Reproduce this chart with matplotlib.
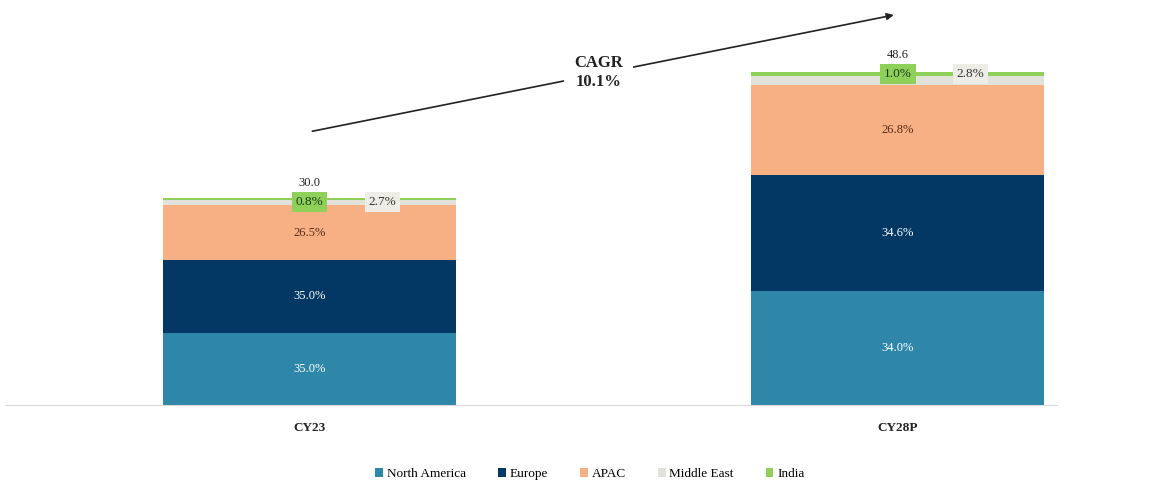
import matplotlib.pyplot as plt
from matplotlib.patches import Patch

plt.rcParams['font.family'] = ['Liberation Serif', 'DejaVu Serif']

# data
years = ['CY23', 'CY28P']
totals = [30.0, 48.6]
regions = ['North America', 'Europe', 'APAC', 'Middle East', 'India']
shares = {
    'North America': [35.0, 34.0],
    'Europe': [35.0, 34.6],
    'APAC': [26.5, 26.8],
    'Middle East': [2.7, 2.8],
    'India': [0.8, 1.0],
}
colors = {
    'North America': '#2E86A8',
    'Europe': '#033764',
    'APAC': '#F6B084',
    'Middle East': '#E2E2DA',
    'India': '#8FD05A',
}
text_colors = {
    'North America': 'white',
    'Europe': 'white',
    'APAC': '#5a2a1a',
}
cagr = '10.1%'

fig = plt.figure(figsize=(11.5, 4.82), dpi=100)
ax = fig.add_axes([5 / 1150, 77 / 482, 1052 / 1150, 405 / 482])

x = list(range(len(years)))
bw = 0.498
bottoms = [0.0] * len(years)
for r in regions:
    vals = [totals[i] * shares[r][i] / 100 for i in x]
    ax.bar(x, vals, bw, bottom=bottoms, color=colors[r], linewidth=0)
    for i in x:
        if r in text_colors:
            ax.text(i, bottoms[i] + vals[i] / 2, f'{shares[r][i]:.1f}%',
                    ha='center', va='center', fontsize=9,
                    color=text_colors[r])
    bottoms = [bottoms[i] + vals[i] for i in x]

# small segments: labels in boxes
for i in x:
    ax.text(i, totals[i] - 0.6, f"{shares['India'][i]:.1f}%", ha='center',
            va='center', fontsize=9.5, color='#1a3a10',
            bbox=dict(boxstyle='square,pad=0.3', fc='#8FD05A', ec='none'))
    ax.text(i + 0.124, totals[i] - 0.6, f"{shares['Middle East'][i]:.1f}%",
            ha='center', va='center', fontsize=9.5, color='#333333',
            bbox=dict(boxstyle='square,pad=0.3', fc='#EDEDE6', ec='none'))
    ax.text(i, totals[i] + 1.3, f'{totals[i]:.1f}', ha='center',
            va='bottom', fontsize=9, color='#222222')

# CAGR arrow
ax.annotate('', xy=(0.998, 56.6), xytext=(0.0, 39.6),
            arrowprops=dict(arrowstyle='-|>', color='#222222', lw=1.2,
                            mutation_scale=10))
ax.text(0.491, 48.2, f'CAGR\n{cagr}', ha='center', va='center',
        fontsize=12, fontweight='bold', color='#222222', linespacing=1.3,
        bbox=dict(boxstyle='square,pad=0.6', fc='white', ec='none'))

ax.set_xlim(-0.518, 1.271)
ax.set_ylim(0, 58.7)
ax.set_xticks(x)
ax.set_xticklabels(years, fontsize=9.5, color='#222222', fontweight='bold')
ax.tick_params(axis='x', length=0, pad=12)
ax.set_yticks([])
for s in ['top', 'right', 'left']:
    ax.spines[s].set_visible(False)
ax.spines['bottom'].set_color('#d9d9d9')

handles = [Patch(facecolor=colors[r], label=r) for r in regions]
fig.legend(handles=handles, loc='center', bbox_to_anchor=(590 / 1150, 8 / 482),
           ncol=5, frameon=False, fontsize=9.5, handlelength=0.6,
           handleheight=0.6, handletextpad=0.3, columnspacing=2.4)

fig.savefig('out.png', dpi=100)
